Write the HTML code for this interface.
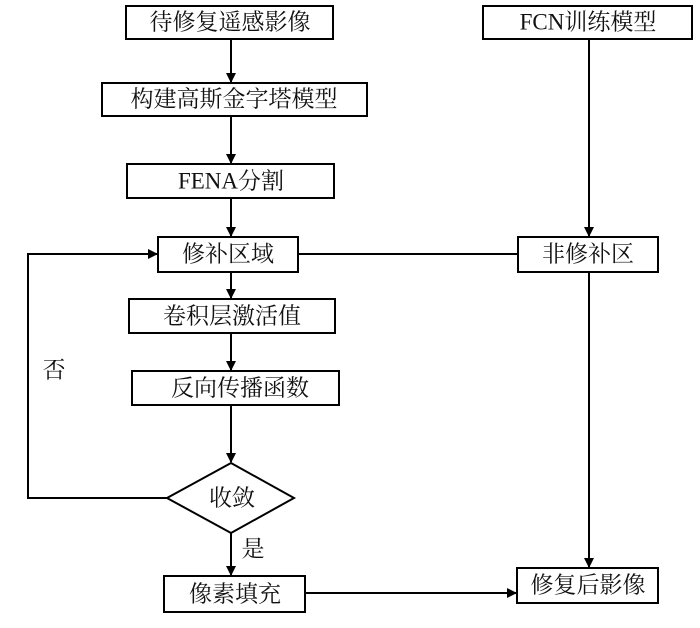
<!DOCTYPE html>
<html><head><meta charset="utf-8"><style>
html,body{margin:0;padding:0;background:#fff;}
svg{display:block;}
text{font-family:"Liberation Serif","Noto Serif CJK SC",serif;font-size:23px;fill:#111;text-anchor:middle;dominant-baseline:central;}
</style></head><body>
<svg width="700" height="628" viewBox="0 0 700 628" xmlns="http://www.w3.org/2000/svg">
<defs><marker id="a" markerWidth="10" markerHeight="10" refX="9" refY="5" orient="auto" markerUnits="userSpaceOnUse"><path d="M0,0 L10,5 L0,10 z" fill="#000"/></marker></defs>
<g fill="none" stroke="#000" stroke-width="2">
<rect x="126" y="6" width="207" height="33"/>
<rect x="483" y="6" width="209" height="33"/>
<rect x="102" y="83" width="265" height="33"/>
<rect x="127" y="164" width="207" height="34"/>
<rect x="158" y="237" width="140" height="35"/>
<rect x="518" y="237" width="140" height="35"/>
<rect x="129" y="299" width="206" height="34"/>
<rect x="132" y="371" width="207" height="34"/>
<polygon points="231,463 294,498 231,533 167,498"/>
<rect x="164" y="576" width="141" height="36"/>
<rect x="517" y="568" width="141" height="35"/>
</g>
<g stroke="#000" stroke-width="2" fill="none">
<line x1="231" y1="39" x2="231" y2="82" marker-end="url(#a)"/>
<line x1="231" y1="116" x2="231" y2="163" marker-end="url(#a)"/>
<line x1="231" y1="198" x2="231" y2="236" marker-end="url(#a)"/>
<line x1="231" y1="272" x2="231" y2="298" marker-end="url(#a)"/>
<line x1="231" y1="333" x2="231" y2="370" marker-end="url(#a)"/>
<line x1="231" y1="405" x2="231" y2="462" marker-end="url(#a)"/>
<line x1="231" y1="533" x2="231" y2="575" marker-end="url(#a)"/>
<line x1="589" y1="39" x2="589" y2="236" marker-end="url(#a)"/>
<line x1="589" y1="272" x2="589" y2="567" marker-end="url(#a)"/>
<line x1="298" y1="254" x2="518" y2="254"/>
<line x1="305" y1="593" x2="516" y2="593" marker-end="url(#a)"/>
<polyline points="167,498 28,498 28,254 157,254" marker-end="url(#a)"/>
</g>
<text x="230" y="22">待修复遥感影像</text>
<text x="588" y="22">FCN训练模型</text>
<text x="234" y="99">构建高斯金字塔模型</text>
<text x="231" y="181">FENA分割</text>
<text x="228" y="254">修补区域</text>
<text x="588" y="254">非修补区</text>
<text x="232" y="316">卷积层激活值</text>
<text x="240" y="388">反向传播函数</text>
<text x="232" y="498">收敛</text>
<text x="235" y="594">像素填充</text>
<text x="588" y="585">修复后影像</text>
<text x="54" y="370">否</text>
<text x="253" y="549">是</text>
</svg>
</body></html>
